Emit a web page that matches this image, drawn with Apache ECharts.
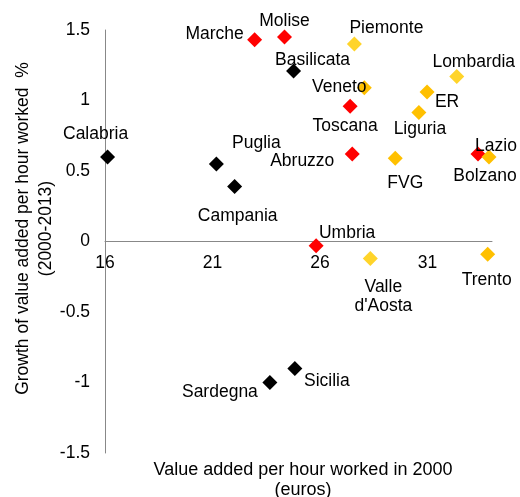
<!DOCTYPE html>
<html>
<head>
<meta charset="utf-8">
<script src="https://cdn.jsdelivr.net/npm/echarts@6/dist/echarts.min.js"></script>
<style>
  html, body { margin: 0; padding: 0; background: #fff; }
  #chart { width: 520px; height: 497px; }
</style>
</head>
<body>
<div id="chart"></div>
<script>
// data
const regions = ['Marche', 'Molise', 'Basilicata', 'Piemonte', 'Veneto', 'Toscana', 'Lombardia', 'ER',
  'Liguria', 'Lazio', 'Bolzano', 'FVG', 'Abruzzo', 'Calabria', 'Puglia', 'Campania', 'Umbria',
  "Valle\nd'Aosta", 'Trento', 'Sardegna', 'Sicilia']
const valueAdded2000 = [22.96, 24.35, 24.77, 27.6, 28.06, 27.4, 32.36, 30.98,
  30.6, 33.35, 33.86, 29.5, 27.5, 16.12, 21.18, 22.03, 25.82,
  28.34, 33.8, 23.67, 24.83]
const growth = [1.43, 1.45, 1.21, 1.40, 1.09, 0.96, 1.17, 1.06,
  0.915, 0.62, 0.60, 0.59, 0.62, 0.60, 0.55, 0.39, -0.03,
  -0.12, -0.09, -1.0, -0.90]
const groups = ['red', 'red', 'black', 'yellow', 'orange', 'red', 'yellow', 'orange',
  'orange', 'red', 'orange', 'orange', 'red', 'black', 'black', 'black', 'red',
  'yellow', 'orange', 'black', 'black']
const xTicks = [16, 21, 26, 31]
const yTicks = [-1.5, -1, -0.5, 0, 0.5, 1, 1.5]

// label offsets from marker centre (px)
const labelOffset = {
  'Marche': [-40, -6], 'Molise': [0, -16], 'Basilicata': [19, -11], 'Piemonte': [32, -16],
  'Veneto': [-25, -1], 'Toscana': [-5, 20], 'Lombardia': [17, -14], 'ER': [20, 10],
  'Liguria': [1, 17], 'Lazio': [18, -8], 'Bolzano': [-4, 19], 'FVG': [10, 25],
  'Abruzzo': [-50, 7], 'Calabria': [-12, -23], 'Puglia': [40, -21], 'Campania': [3, 30],
  'Umbria': [31, -13], "Valle\nd'Aosta": [13, 38], 'Trento': [-1, 26],
  'Sardegna': [-50, 10], 'Sicilia': [32, 13]
}
const colors = { black: '#000000', red: '#FF0000', yellow: '#FFD42A', orange: '#FFC000' }

const font = 'Liberation Sans, Arial, sans-serif'
const fs = 17.5

const gridTop = 30
const gridBottom = 44
const gridH = 497 - gridTop - gridBottom
const yMin = yTicks[0]
const yMax = yTicks[yTicks.length - 1]
// move x axis (line + labels) up to y = 0
const xAxisOffset = -gridH * (0 - yMin) / (yMax - yMin)

const series = ['black', 'red', 'yellow', 'orange'].map(g => ({
  type: 'scatter',
  symbol: 'diamond',
  symbolSize: 15,
  itemStyle: { color: colors[g], opacity: 1 },
  data: regions.map((r, i) => ({ r, i })).filter(d => groups[d.i] === g).map(d => ({
    name: d.r,
    value: [valueAdded2000[d.i], growth[d.i]],
    label: {
      show: true,
      position: 'inside',
      offset: labelOffset[d.r],
      formatter: '{b}',
      color: '#000',
      fontFamily: font,
      fontSize: fs,
      lineHeight: 19
    }
  }))
}))

const chart = echarts.init(document.getElementById('chart'))
chart.setOption({
  animation: false,
  grid: { left: 105, right: 28, top: gridTop, bottom: gridBottom, outerBoundsMode: 'none', containLabel: false },
  title: {
    text: 'Value added per hour worked in 2000\n(euros)',
    left: 298,
    top: 455,
    textAlign: 'center',
    textStyle: { fontFamily: font, fontSize: 18, fontWeight: 'normal', color: '#000', lineHeight: 20 }
  },
  xAxis: {
    type: 'value',
    min: xTicks[0],
    max: 34,
    interval: 5,
    offset: xAxisOffset,
    axisLine: { onZero: false, lineStyle: { color: '#888', width: 1 } },
    axisTick: { show: false },
    splitLine: { show: false },
    axisLabel: {
      showMaxLabel: false,
      color: '#000', fontFamily: font, fontSize: fs, margin: 13,
      formatter: v => xTicks.includes(v) ? String(v) : ''
    }
  },
  yAxis: {
    type: 'value',
    min: yMin,
    max: yMax,
    interval: 0.5,
    name: 'Growth of value added per hour worked  %\n(2000-2013)',
    nameLocation: 'middle',
    nameMoveOverlap: false,
    nameGap: 47,
    nameTextStyle: { fontFamily: font, fontSize: fs, color: '#000', lineHeight: 23, padding: [0, 0, 0, 26] },
    axisLine: { show: true, onZero: false, lineStyle: { color: '#888', width: 1 } },
    axisTick: { show: false },
    splitLine: { show: false },
    axisLabel: { color: '#000', fontFamily: font, fontSize: fs, margin: 15 }
  },
  series
})
</script>
</body>
</html>
